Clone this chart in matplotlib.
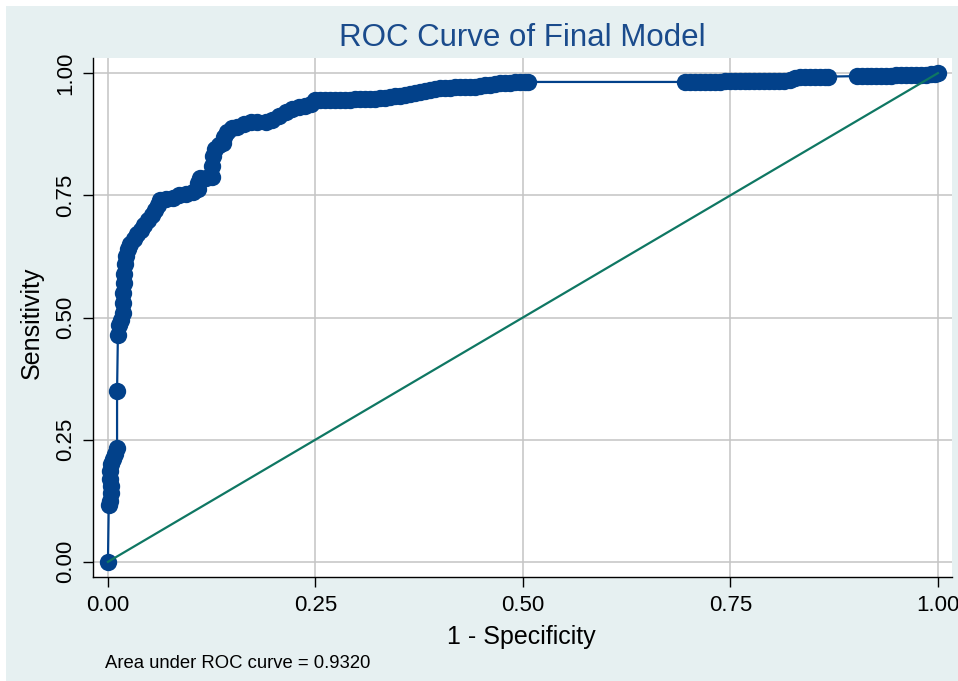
import matplotlib
matplotlib.use("Agg")
import matplotlib.pyplot as plt
from matplotlib.patches import Rectangle

plt.rcParams["font.family"] = ["Liberation Sans", "DejaVu Sans"]

# ROC points (1 - specificity, sensitivity)
fpr_low = [0.000, 0.001, 0.003, 0.004, 0.004, 0.003, 0.003, 0.004, 0.006, 0.009,
           0.011, 0.011, 0.012, 0.013, 0.016, 0.018, 0.018, 0.018, 0.019, 0.019,
           0.020, 0.022, 0.024, 0.027, 0.031, 0.035, 0.040, 0.044, 0.048, 0.053,
           0.057, 0.060, 0.063, 0.070, 0.078, 0.086, 0.094, 0.102, 0.108, 0.109,
           0.111, 0.118, 0.125, 0.125, 0.126, 0.129, 0.134, 0.139, 0.140, 0.143,
           0.149, 0.156, 0.164, 0.172, 0.180, 0.190, 0.198, 0.206, 0.214, 0.222,
           0.230, 0.238, 0.245]
tpr_low = [0.000, 0.117, 0.125, 0.140, 0.155, 0.170, 0.185, 0.200, 0.210, 0.220,
           0.232, 0.350, 0.465, 0.485, 0.495, 0.510, 0.530, 0.550, 0.570, 0.590,
           0.610, 0.625, 0.640, 0.650, 0.660, 0.670, 0.680, 0.690, 0.700, 0.710,
           0.720, 0.730, 0.740, 0.742, 0.745, 0.750, 0.752, 0.757, 0.762, 0.775,
           0.785, 0.786, 0.788, 0.810, 0.830, 0.845, 0.852, 0.857, 0.870, 0.880,
           0.887, 0.890, 0.895, 0.900, 0.900, 0.900, 0.905, 0.913, 0.920, 0.926,
           0.930, 0.933, 0.936]

fpr_mid = [0.250, 0.256, 0.262, 0.268, 0.274, 0.280, 0.286, 0.292, 0.298, 0.304,
           0.310, 0.316, 0.322, 0.328, 0.334, 0.340, 0.346, 0.352, 0.358, 0.364,
           0.370, 0.376, 0.382, 0.388, 0.394, 0.400, 0.406, 0.412, 0.418, 0.424,
           0.430, 0.436, 0.442, 0.448, 0.454, 0.460, 0.466, 0.472, 0.478, 0.484,
           0.490, 0.496, 0.502, 0.506]
tpr_mid = [0.945, 0.946, 0.946, 0.946, 0.946, 0.946, 0.946, 0.946, 0.947, 0.947,
           0.947, 0.947, 0.948, 0.949, 0.950, 0.951, 0.953, 0.954, 0.956, 0.958,
           0.960, 0.962, 0.964, 0.966, 0.968, 0.969, 0.970, 0.970, 0.971, 0.971,
           0.971, 0.971, 0.972, 0.973, 0.975, 0.976, 0.978, 0.979, 0.980, 0.980,
           0.981, 0.981, 0.982, 0.982]

fpr_high = [0.695, 0.701, 0.707, 0.713, 0.719, 0.725, 0.731, 0.737, 0.743, 0.749,
            0.755, 0.761, 0.767, 0.773, 0.779, 0.785, 0.791, 0.797, 0.803, 0.809,
            0.815, 0.822, 0.828, 0.834, 0.840, 0.846, 0.852, 0.858, 0.864, 0.868,
            0.902, 0.908, 0.914, 0.920, 0.926, 0.932, 0.938, 0.944, 0.950, 0.956,
            0.962, 0.968, 0.974, 0.980, 0.986, 0.992, 0.996, 1.000]
tpr_high = [0.982, 0.982, 0.982, 0.982, 0.982, 0.982, 0.982, 0.982, 0.983, 0.983,
            0.983, 0.983, 0.983, 0.983, 0.983, 0.983, 0.984, 0.984, 0.984, 0.984,
            0.984, 0.985, 0.990, 0.993, 0.993, 0.993, 0.993, 0.993, 0.993, 0.993,
            0.994, 0.994, 0.994, 0.994, 0.995, 0.995, 0.995, 0.995, 0.996, 0.996,
            0.996, 0.996, 0.997, 0.997, 0.997, 0.998, 0.998, 1.000]

fpr = fpr_low + fpr_mid + fpr_high
tpr = tpr_low + tpr_mid + tpr_high

ref_x = [0.0, 1.0]
ref_y = [0.0, 1.0]
ticks = [0.0, 0.25, 0.5, 0.75, 1.0]
tick_labels = ["0.00", "0.25", "0.50", "0.75", "1.00"]
auc = 0.9320

NAVY = "#02418a"
GREEN = "#0f7763"
BG = "#e6f0f1"

fig = plt.figure(figsize=(9.58, 6.81), dpi=100, facecolor="white")
fig.patches.append(Rectangle((6 / 958, 0), 1, 675 / 681, transform=fig.transFigure,
                             facecolor=BG, edgecolor="none", zorder=-10))

ax = fig.add_axes([93 / 958, 104 / 681, (952 - 93) / 958, (577 - 58) / 681])
ax.set_facecolor("white")

ax.plot(fpr, tpr, "-o", color=NAVY, lw=1.6, markersize=12.5, markeredgewidth=0, zorder=3)
ax.plot(ref_x, ref_y, color=GREEN, lw=1.6, zorder=4)

ax.set_xlim(-0.018, 1.017)
ax.set_ylim(-0.031, 1.031)
ax.set_xticks(ticks)
ax.set_xticklabels(tick_labels)
ax.set_yticks(ticks)
ax.set_yticklabels(tick_labels, rotation=90, va="center")
ax.grid(True, color="#c4c4c4", lw=1.1, zorder=0)
ax.set_axisbelow(True)

for side in ["top", "right"]:
    ax.spines[side].set_visible(False)
for side in ["left", "bottom"]:
    ax.spines[side].set_color("black")
    ax.spines[side].set_linewidth(1.0)

ax.tick_params(axis="both", direction="out", length=7, width=1, color="black", labelsize=16)
ax.tick_params(axis="x", pad=6)
ax.tick_params(axis="y", pad=5)

fig.text(0.5454, 1 - 38 / 681, "ROC Curve of Final Model", ha="center", va="center",
         fontsize=22.5, color="#1a4b8c")
fig.text(521.5 / 958, (681 - 637) / 681, "1 - Specificity", ha="center", va="center", fontsize=18)
fig.text(32 / 958, 1 - 323 / 681, "Sensitivity", ha="center", va="center", rotation=90, fontsize=18)
fig.text(105 / 958, (681 - 663) / 681, f"Area under ROC curve = {auc:.4f}", ha="left",
         va="center", fontsize=13.3)

fig.savefig("out.png", dpi=100)
